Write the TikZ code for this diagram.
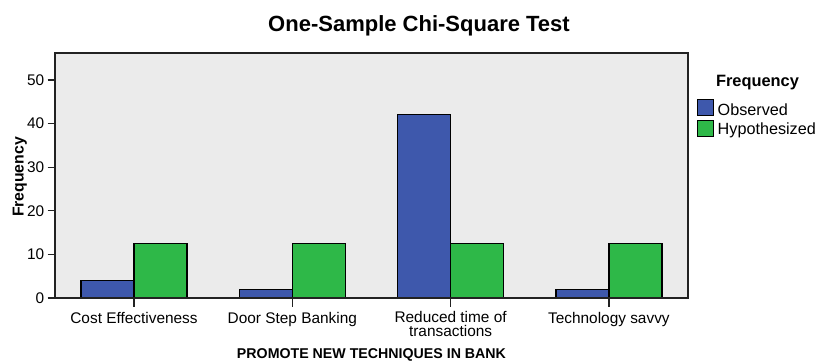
\documentclass[tikz,border=0pt]{standalone}
\usepackage{fontspec}
\setmainfont{Liberation Sans}
\definecolor{obs}{HTML}{3E58AC}
\definecolor{hyp}{HTML}{2EB848}
\definecolor{plotbg}{HTML}{EBEBEB}
\definecolor{axisline}{HTML}{222222}
\begin{document}
\begin{tikzpicture}[x=1pt,y=-1pt,
  barbox/.style={draw=black,line width=1.2pt},
  axisrule/.style={draw=axisline,line width=1.3pt},
  ticklabel/.style={inner sep=0pt,font=\fontsize{15.4}{14}\selectfont},
  legtext/.style={inner sep=0pt,anchor=base west,font=\fontsize{16.2}{18}\selectfont},
  legbox/.style={draw=black,line width=1pt}]
\useasboundingbox[fill=white] (0,0) rectangle (819,360);

% plot area
\fill[plotbg] (55,53) rectangle (688,298);
\draw[axisrule] (55,53) rectangle (688,298);

% title
\node (title) [inner sep=0pt,anchor=base,font=\fontsize{22}{24}\selectfont\bfseries]
  at (419,31.5) {One-Sample Chi-Square Test};

% data region: y in frequency units, origin on the baseline
\begin{scope}[shift={(0,298)},y=4.36pt]
  \foreach \c/\o [count=\i] in {134/4,292.3/2,450.6/42,608.9/2}{
    \draw[barbox,fill=obs] (\c-53,0) rectangle (\c,\o);
    \draw[barbox,fill=hyp] (\c,0) rectangle (\c+53,12.5);
    \draw[axisrule] (\c,0) -- (\c,-2.1);
  }
  \foreach \v in {0,10,...,50}{
    \draw[axisrule] (47.5,\v) -- (55,\v);
    \node (ytick\v) [ticklabel,anchor=east] at (44.5,\v) {\v};
  }
  \draw[axisrule] (55,0) -- (688,0);
\end{scope}

% category labels
\node (cat1) [ticklabel,anchor=base] at (134,323) {Cost Effectiveness};
\node (cat2) [ticklabel,anchor=base] at (292.3,323) {Door Step Banking};
\node (cat3) [ticklabel,anchor=north,align=center] at (450.6,311.5) {Reduced time of\\transactions};
\node (cat4) [ticklabel,anchor=base] at (608.9,323) {Technology savvy};

% axis titles
\node (xtitle) [inner sep=0pt,anchor=base,font=\fontsize{14.2}{16}\selectfont\bfseries]
  at (371.5,358) {PROMOTE NEW TECHNIQUES IN BANK};
\node (ytitle) [inner sep=0pt,anchor=base,rotate=90,font=\fontsize{15.8}{18}\selectfont\bfseries]
  at (23.5,177) {Frequency};

% legend
\node (legtitle) [inner sep=0pt,anchor=base,font=\fontsize{16.4}{18}\selectfont\bfseries]
  at (757.5,86) {Frequency};
\draw[legbox,fill=obs] (697,99) rectangle (713,115);
\draw[legbox,fill=hyp] (697,120) rectangle (713,136);
\node (legobs) [legtext] at (717.5,115) {Observed};
\node (leghyp) [legtext] at (717.5,134) {Hypothesized};
\end{tikzpicture}
\end{document}
